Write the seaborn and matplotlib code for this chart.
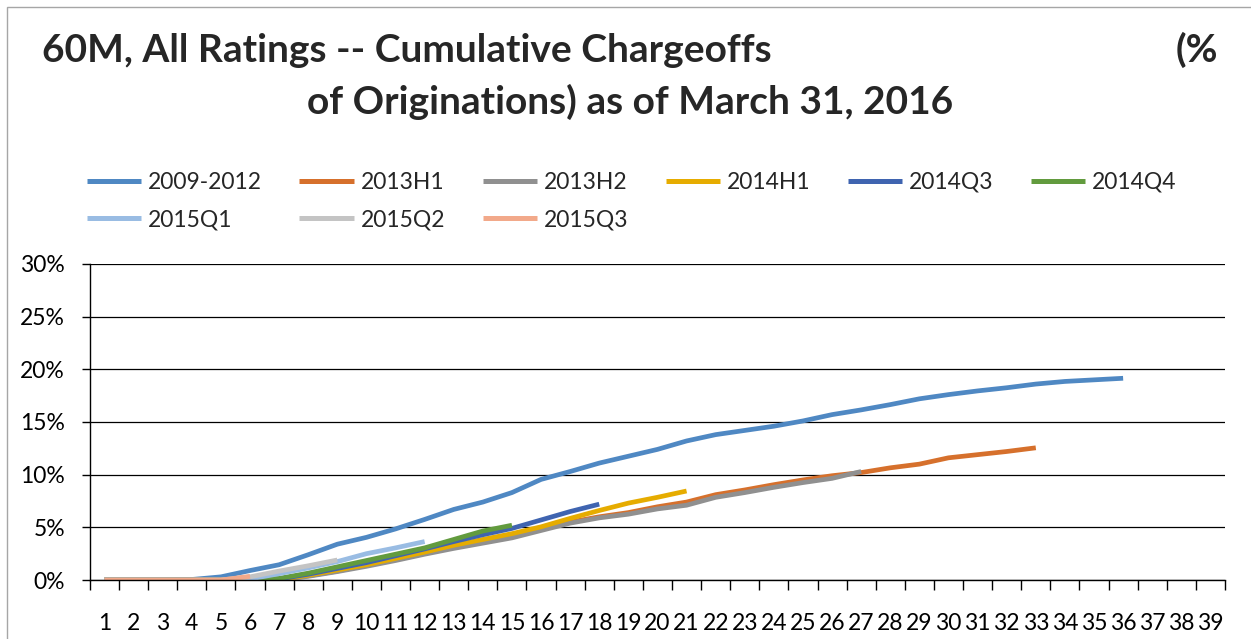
import matplotlib
matplotlib.use("Agg")
import matplotlib.pyplot as plt
from matplotlib.lines import Line2D
from matplotlib.patches import Rectangle
import seaborn as sns
import pandas as pd
import numpy as np

# Kumulierte Ausfaelle in % der Originations, je Monat seit Vergabe
vintages = ["2009-2012", "2013H1", "2013H2", "2014H1", "2014Q3", "2014Q4",
            "2015Q1", "2015Q2", "2015Q3"]

v_2009_2012 = [0, 0, 0, 0.05, 0.3, 0.9, 1.45, 2.4, 3.4, 4.05, 4.85, 5.75, 6.7, 7.4,
               8.3, 9.55, 10.3, 11.1, 11.75, 12.4, 13.2, 13.8, 14.2, 14.6, 15.1,
               15.7, 16.15, 16.65, 17.2, 17.6, 17.95, 18.25, 18.6, 18.85, 19.0, 19.15]
v_2013h1 = [0, 0, 0, 0, 0, 0, 0.05, 0.4, 0.85, 1.4, 1.95, 2.55, 3.15, 3.65, 4.15,
            4.85, 5.5, 6.0, 6.4, 6.95, 7.4, 8.1, 8.55, 9.05, 9.5, 9.9, 10.2, 10.65,
            11.0, 11.6, 11.9, 12.2, 12.55]
v_2013h2 = [0, 0, 0, 0, 0, 0, 0, 0.35, 0.8, 1.3, 1.85, 2.45, 3.0, 3.5, 4.0, 4.7,
            5.4, 5.9, 6.25, 6.75, 7.1, 7.85, 8.3, 8.8, 9.25, 9.65, 10.3]
v_2014h1 = [0, 0, 0, 0, 0, 0, 0.05, 0.45, 0.95, 1.45, 2.05, 2.65, 3.3, 3.85, 4.4,
            5.05, 5.85, 6.6, 7.3, 7.85, 8.45]
v_2014q3 = [0, 0, 0, 0, 0, 0, 0.1, 0.55, 1.1, 1.65, 2.3, 2.95, 3.65, 4.3, 4.9, 5.7,
            6.5, 7.2]
v_2014q4 = [0, 0, 0, 0, 0, 0, 0.15, 0.65, 1.25, 1.85, 2.45, 3.05, 3.85, 4.65, 5.2]
v_2015q1 = [0, 0, 0, 0, 0, 0.1, 0.6, 1.15, 1.75, 2.5, 3.05, 3.65]
v_2015q2 = [0, 0, 0, 0, 0, 0.3, 0.85, 1.35, 1.9]
v_2015q3 = [0, 0, 0, 0, 0, 0.35]

series = [v_2009_2012, v_2013h1, v_2013h2, v_2014h1, v_2014q3, v_2014q4,
          v_2015q1, v_2015q2, v_2015q3]
colors = ["#4F88C3", "#D6702C", "#909090", "#E6AC00", "#3F64B0", "#629B3E",
          "#99BCE3", "#C4C4C4", "#F2A98A"]

months = list(range(1, 40))
y_ticks = [0, 5, 10, 15, 20, 25, 30]

# long format fuer seaborn
df = pd.concat([
    pd.DataFrame({"vintage": name, "month": np.arange(1, len(vals) + 1), "pct": vals})
    for name, vals in zip(vintages, series)
], ignore_index=True)

sns.set_style("white")
plt.rcParams["font.family"] = ["Lato", "DejaVu Sans"]
plt.rcParams["lines.solid_capstyle"] = "butt"

fig = plt.figure(figsize=(12.51, 6.39), dpi=100)
ax = fig.add_axes([0.0719, 0.0923, 0.9073, 0.4946])

sns.lineplot(
    data=df,
    x="month",
    y="pct",
    hue="vintage",
    hue_order=vintages,
    palette=colors,
    linewidth=3.4,
    legend=False,
    ax=ax
)

ax.set_xlim(0.5, 39.5)
ax.set_ylim(0, 30)
ax.set_xticks(months)
ax.set_xticklabels([str(m) for m in months])
ax.set_xticks(np.arange(0.5, 40, 1), minor=True)
ax.set_yticks(y_ticks)
ax.set_yticklabels([f"{v}%" for v in y_ticks])
ax.set_xlabel("")
ax.set_ylabel("")

ax.tick_params(axis="x", which="major", length=0, pad=24, labelsize=16.5, colors="black")
ax.tick_params(axis="x", which="minor", length=7.5, width=1, direction="out",
               bottom=True, color="black")
ax.tick_params(axis="y", length=6, width=1, direction="out", left=True, pad=12,
               labelsize=16.5, colors="black")

ax.grid(axis="y", color="black", linewidth=0.9)
ax.set_axisbelow(True)
for s in ["top", "right"]:
    ax.spines[s].set_visible(False)
for s in ["left", "bottom"]:
    ax.spines[s].set_color("black")
    ax.spines[s].set_linewidth(1)

# Legende: matplotlib fuellt spaltenweise, Reihenfolge so dass es zeilenweise passt
leg_order = [0, 6, 1, 7, 2, 8, 3, 4, 5]
handles = [Line2D([0], [0], color=colors[i], lw=3.6) for i in leg_order]
labels = [vintages[i] for i in leg_order]
fig.legend(
    handles, labels,
    loc="upper left",
    bbox_to_anchor=(0.0695, 0.731),
    ncol=6,
    frameon=False,
    fontsize=16.5,
    handlelength=2.36,
    handletextpad=0.3,
    columnspacing=1.64,
    labelspacing=0.72,
    borderpad=0,
    borderaxespad=0
)

# Titel
fig.text(42 / 1251, 1 - 62 / 639, "60M, All Ratings -- Cumulative Chargeoffs",
         fontsize=28, fontweight="bold", ha="left", va="baseline")
fig.text(1218 / 1251, 1 - 62 / 639, "(%",
         fontsize=28, fontweight="bold", ha="right", va="baseline")
fig.text(630 / 1251, 1 - 114 / 639, "of Originations) as of March 31, 2016",
         fontsize=28, fontweight="bold", ha="center", va="baseline")

# Rahmen des Diagrammbereichs
fig.patches.append(Rectangle((7 / 1251, -0.5), 2, 1.5 - 7 / 639,
                             transform=fig.transFigure, fill=False,
                             edgecolor="#A6A6A6", linewidth=1))

fig.savefig("out.png", dpi=100)
